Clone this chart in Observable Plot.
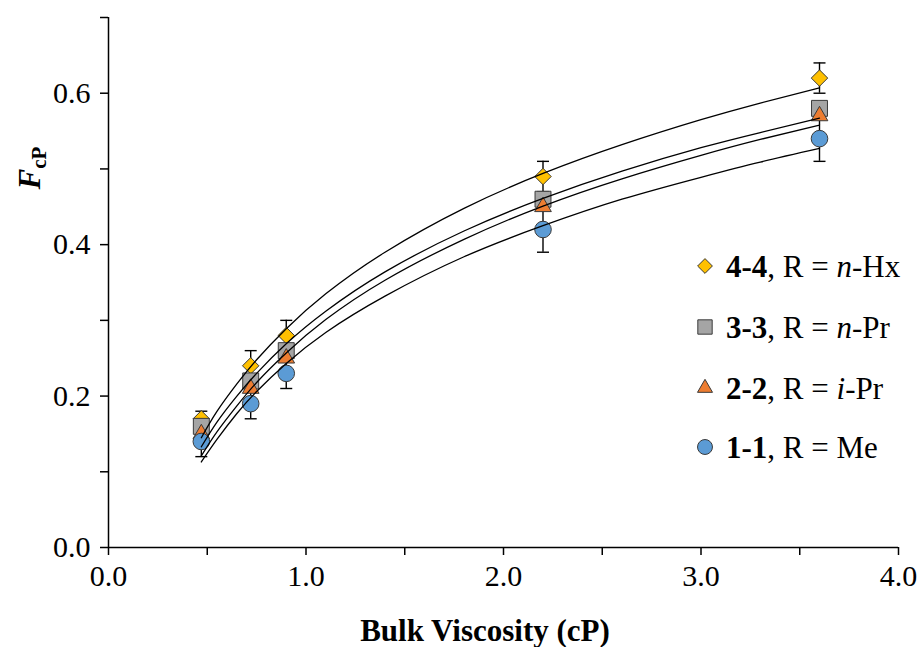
<!DOCTYPE html>
<html><head><meta charset="utf-8">
<script src="https://cdn.jsdelivr.net/npm/d3@7"></script>
<script src="https://cdn.jsdelivr.net/npm/@observablehq/plot@0.6"></script>
<style>body{margin:0;background:#fff;} svg{display:block}</style>
</head><body><div id="chart"></div>
<script>
// ---- data ----
const viscosity = [0.47, 0.72, 0.90, 2.20, 3.60];
const f44 = [0.17, 0.24, 0.28, 0.49, 0.62];
const f33 = [0.16, 0.22, 0.26, 0.46, 0.58];
const f22 = [0.15, 0.21, 0.25, 0.45, 0.57];
const f11 = [0.14, 0.19, 0.23, 0.42, 0.54];
const err44 = [0.01, 0.02, 0.02, 0.02, 0.02];
const err11 = [0.02, 0.02, 0.02, 0.03, 0.03];

// fitted trend curves
const fitX  = [0.47, 0.55, 0.65, 0.75, 0.90, 1.10, 1.40, 1.80, 2.20, 2.60, 3.00, 3.30, 3.60];
const fit44 = [0.145, 0.180, 0.216, 0.248, 0.289, 0.335, 0.390, 0.448, 0.494, 0.532, 0.565, 0.587, 0.607];
const fit33 = [0.133, 0.166, 0.200, 0.230, 0.269, 0.312, 0.364, 0.418, 0.461, 0.497, 0.528, 0.548, 0.567];
const fit22 = [0.121, 0.153, 0.187, 0.218, 0.257, 0.301, 0.353, 0.407, 0.451, 0.487, 0.518, 0.539, 0.558];
const fit11 = [0.113, 0.143, 0.177, 0.206, 0.243, 0.284, 0.332, 0.384, 0.425, 0.460, 0.489, 0.509, 0.527];

const xMajor = [0, 1, 2, 3, 4];
const xMinor = [0.5, 1.5, 2.5, 3.5];
const yMajor = [0, 0.2, 0.4, 0.6];
const yMinor = [0.1, 0.3, 0.5, 0.7];

const legendCode   = ["4-4", "3-3", "2-2", "1-1"];
const legendPrefix = ["n", "n", "i", ""];
const legendGroup  = ["Hx", "Pr", "Pr", "Me"];

const colors  = {"4-4": "#FFC000", "3-3": "#A5A5A5", "2-2": "#ED7D31", "1-1": "#5B9BD5"};
const symbols = {"4-4": "diamond2", "3-3": "square", "2-2": "triangle", "1-1": "circle"};
const radius  = {"4-4": 7.4, "3-3": 9.0, "2-2": 6.2, "1-1": 8.3};

// ---- build tables ----
const seriesVals = {"4-4": f44, "3-3": f33, "2-2": f22, "1-1": f11};
const fitVals = {"4-4": fit44, "3-3": fit33, "2-2": fit22, "1-1": fit11};
const errVals = {"4-4": err44, "1-1": err11};

const drawOrder = ["4-4", "3-3", "2-2", "1-1"];
const points = [];
for (const s of drawOrder) seriesVals[s].forEach((v, i) => points.push({s, x: viscosity[i], y: v}));
const fits = [];
for (const s of legendCode) fitVals[s].forEach((v, i) => fits.push({s, x: fitX[i], y: v}));
const errs = [];
for (const s of Object.keys(errVals)) errVals[s].forEach((e, i) => errs.push({s, x: viscosity[i], lo: seriesVals[s][i] - e, hi: seriesVals[s][i] + e}));
const caps = errs.flatMap(d => [{x: d.x, y: d.lo}, {x: d.x, y: d.hi}]);

const capSymbol = {draw(ctx) { ctx.moveTo(-6, 0); ctx.lineTo(6, 0); }};

const dotMarks = drawOrder.map(s =>
  Plot.dot(points.filter(d => d.s === s), {x: "x", y: "y", symbol: symbols[s], r: radius[s], fill: colors[s], stroke: "#3a3a3a", strokeWidth: 1})
);

const serif = "'Liberation Serif', 'Times New Roman', serif";

const plot = Plot.plot({
  width: 918, height: 647,
  marginLeft: 108, marginRight: 20, marginTop: 17, marginBottom: 100,
  x: {domain: [0, 4]},
  y: {domain: [0, 0.7]},
  style: {fontFamily: serif, fontSize: "30px", color: "black", background: "white", overflow: "visible"},
  marks: [
    Plot.axisX([...xMajor, ...xMinor], {tickSize: 8, tickPadding: 9, strokeWidth: 1.5, label: null,
      tickFormat: d => xMajor.includes(d) ? d.toFixed(1) : ""}),
    Plot.axisY([...yMajor, ...yMinor], {tickSize: 8, tickPadding: 10, strokeWidth: 1.5, label: null,
      tickFormat: d => yMajor.includes(d) ? d.toFixed(1) : ""}),
    Plot.ruleY([0], {strokeWidth: 1.5}),
    Plot.ruleX([0], {strokeWidth: 1.5}),
    Plot.ruleX(errs, {x: "x", y1: "lo", y2: "hi", stroke: "black", strokeWidth: 1.4}),
    Plot.dot(caps, {x: "x", y: "y", symbol: capSymbol, r: 6, stroke: "black", strokeWidth: 1.4, fill: "none"}),
    ...dotMarks,
    Plot.line(fits, {x: "x", y: "y", z: "s", curve: "natural", stroke: "black", strokeWidth: 1.3})
  ]
});
document.getElementById("chart").append(plot);

const svg = d3.select(plot);
svg.selectAll('g[aria-label$="tick label"]').attr("font-size", 30).style("font-size", "30px").attr("font-family", serif);
svg.selectAll('g[aria-label$="tick label"] text').style("font-size", "30px");

// x axis title
svg.append("text").attr("x", 485).attr("y", 641).attr("text-anchor", "middle")
  .attr("font-family", serif).attr("font-size", 31).attr("font-weight", "bold").attr("fill", "black")
  .text("Bulk Viscosity (cP)");

// y axis title
const yt = svg.append("text").attr("transform", "translate(40,168) rotate(-90)").attr("text-anchor", "middle")
  .attr("font-family", serif).attr("font-weight", "bold").attr("fill", "black");
yt.append("tspan").attr("font-size", 31).attr("font-style", "italic").text("F");
yt.append("tspan").attr("font-size", 21).attr("dy", 6).text("cP");

// legend
const lg = svg.append("g");
const rows = [266, 327, 388, 447];
const symMap = {diamond2: d3.symbolDiamond2, square: d3.symbolSquare, triangle: d3.symbolTriangle, circle: d3.symbolCircle};
legendCode.forEach((code, i) => {
  const y = rows[i];
  const r = radius[code] * 0.9;
  lg.append("path").attr("transform", `translate(705,${y})`)
    .attr("d", d3.symbol(symMap[symbols[code]], Math.PI * r * r)())
    .attr("fill", colors[code]).attr("stroke", "#3a3a3a").attr("stroke-width", 1);
  const t = lg.append("text").attr("x", 726).attr("y", y).attr("dy", "0.35em").attr("text-anchor", "start")
    .attr("font-family", serif).attr("font-size", 31).attr("fill", "black");
  t.append("tspan").attr("font-weight", "bold").text(code);
  t.append("tspan").text(", R = ");
  if (legendPrefix[i]) {
    t.append("tspan").attr("font-style", "italic").text(legendPrefix[i]);
    t.append("tspan").text("-" + legendGroup[i]);
  } else {
    t.append("tspan").text(legendGroup[i]);
  }
});
</script>
</body></html>
